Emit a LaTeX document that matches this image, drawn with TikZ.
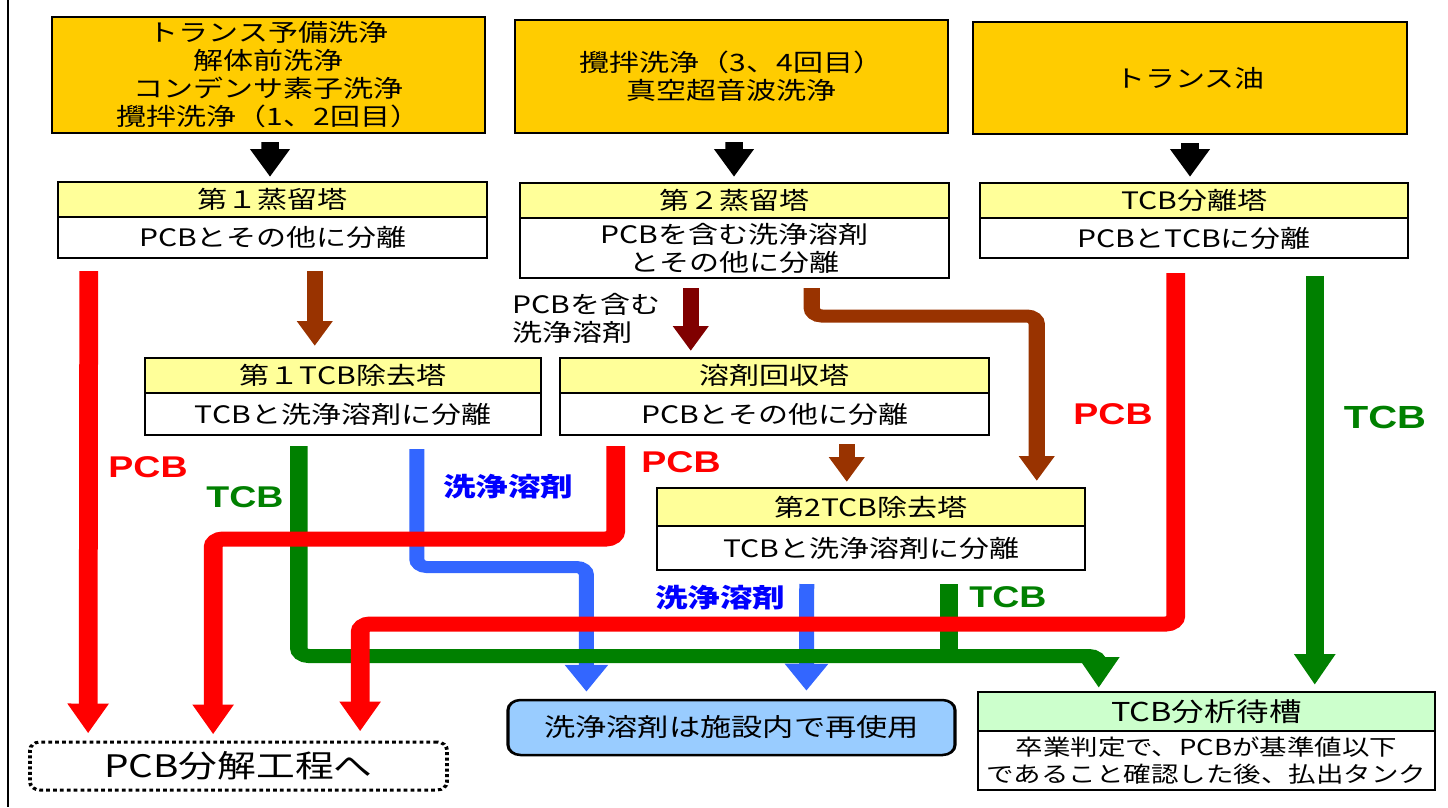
\documentclass[tikz,border=0pt]{standalone}
\usepackage{fontspec}
\setmainfont{Noto Sans CJK JP}
\newfontfamily\latinlab{Liberation Sans}
\usetikzlibrary{arrows.meta,calc}
\definecolor{orng}{HTML}{FFCC00}
\definecolor{hdrfill}{HTML}{FFFF99}
\definecolor{pcbred}{HTML}{FF0000}
\definecolor{tcbgreen}{HTML}{008000}
\definecolor{solvblue}{HTML}{3366FF}
\definecolor{lblblue}{HTML}{0000FF}
\definecolor{brn}{HTML}{993300}
\definecolor{dkred}{HTML}{800000}
\definecolor{reuseblue}{HTML}{99CCFF}
\definecolor{tankgreen}{HTML}{CCFFCC}
\tikzset{
  geom/.style n args={4}{minimum width={(#3-#1)*0.8pt}, minimum height={(#4-#2)*1pt},
     at={({(#1+#3)/2},{(#2+#4)/2})}},
  box/.style={draw=black, line width=2pt, inner sep=0pt, align=center, font=\fontsize{24}{28}\selectfont},
  srcbox/.style={box, fill=orng},
  hdbox/.style={box, fill=hdrfill},
  bdbox/.style={box, fill=white},
  pcbflow/.style={draw=pcbred, line width=15pt, -{Triangle[width=31pt,length=30pt]}},
  tcbflow/.style={draw=tcbgreen, line width=14pt, -{Triangle[width=31pt,length=31pt]}},
  solvflow/.style={draw=solvblue, line width=12pt, -{Triangle[width=33pt,length=27pt]}},
  brnflow/.style={draw=brn, line width=13pt, -{Triangle[width=27pt,length=25pt]}},
  blkflow/.style={draw=black, line width=14pt, -{Triangle[width=30pt,length=28pt]}},
  latlab/.style={font=\latinlab\bfseries\fontsize{30}{30}\selectfont},
  jplab/.style={font=\bfseries\fontsize{26}{26}\selectfont},
  rc/.style={rounded corners=8pt}
}
\begin{document}
\begin{tikzpicture}
\useasboundingbox (0,0) rectangle (1448pt,-807pt);
\begin{scope}[transform canvas={xscale=1.25}, x=0.8pt, y=-1pt]
% frame edge
\draw[line width=2pt] (8,0) -- (8,807);
% source boxes
\node[srcbox, geom={52}{17}{485}{133}] (src1) {トランス予備洗浄\\解体前洗浄\\コンデンサ素子洗浄\\攪拌洗浄（1、2回目）};
\node[srcbox, geom={515}{20}{948}{133}] (src2) {攪拌洗浄（3、4回目）\\真空超音波洗浄};
\node[srcbox, geom={973}{22}{1407}{134}] (src3) {トランス油};
% towers
\node[hdbox, geom={58}{182}{487}{217}] (d1h) {第１蒸留塔};
\node[bdbox, geom={58}{217}{487}{258}] (d1b) {PCBとその他に分離};
\node[hdbox, geom={520}{183}{949}{218}] (d2h) {第２蒸留塔};
\node[bdbox, geom={520}{218}{949}{278}] (d2b) {PCBを含む洗浄溶剤\\とその他に分離};
\node[hdbox, geom={980}{183}{1408}{218}] (sph) {TCB分離塔};
\node[bdbox, geom={980}{218}{1408}{258}] (spb) {PCBとTCBに分離};
\node[hdbox, geom={145}{358}{541}{393}] (t1h) {第１TCB除去塔};
\node[bdbox, geom={145}{393}{541}{435}] (t1b) {TCBと洗浄溶剤に分離};
\node[hdbox, geom={560}{358}{989}{393}] (rch) {溶剤回収塔};
\node[bdbox, geom={560}{393}{989}{435}] (rcb) {PCBとその他に分離};
\node[hdbox, geom={657}{488}{1085}{526}] (t2h) {第2TCB除去塔};
\node[bdbox, geom={657}{526}{1085}{570}] (t2b) {TCBと洗浄溶剤に分離};
\node[box, fill=tankgreen, geom={978}{692}{1435}{731}, font=\fontsize{26}{28}\selectfont] (tkh) {TCB分析待槽};
\node[bdbox, geom={978}{731}{1435}{790}, font=\fontsize{22}{27}\selectfont] (tkb) {卒業判定で、PCBが基準値以下\\であること確認した後、払出タンク};
\node[draw=black, line width=2.5pt, fill=reuseblue, rounded corners=10pt, inner sep=0pt, geom={508}{700}{955}{755}, font=\fontsize{25}{25}\selectfont] (reuse) {洗浄溶剤は施設内で再使用};
\node[draw=black, line width=3pt, dash pattern=on 3pt off 2.5pt, rounded corners=8pt, inner sep=0pt, geom={30}{742}{447}{790}, font=\fontsize{31}{31}\selectfont] (pcbd) {PCB分解工程へ};
% black feed arrows
\draw[blkflow] ($(src1.south)+(1.5,8)$) -- ($(d1h.north)+(-2.5,-4)$);
\draw[blkflow] ($(src2.south)+(2.5,8)$) -- ($(d2h.north)+(-0.5,-5)$);
\draw[blkflow] ($(src3.south)+(0,8)$) -- ($(sph.north)+(-4,-5)$);
% brown flows
\draw[brnflow] ($(d1b.south west)+(258,12)$) -- ($(t1h.north west)+(171,-11)$);
\draw[brnflow, draw=dkred] ($(d2b.south west)+(172,9)$) -- ($(rch.north west)+(132,-6)$);
\draw[brnflow] ($(d2b.south west)+(293,9)$) [rc] -- ++(0,28) -| ($(t2h.north west)+(381,-6)$);
\draw[brnflow] ($(rcb.south west)+(288,8)$) -- ($(t2h.north west)+(191,-5)$);
% solvent flows
\draw[solvflow] ($(t1b.south west)+(273,13)$) [rc] -- ++(0,118) -| ($(reuse.north west)+(80,-7)$);
\draw[solvflow] ($(t2b.south west)+(151,13)$) -- ($(reuse.north west)+(300,-8)$);
% TCB flows
\draw[tcbflow] ($(t1b.south west)+(155,10)$) [rc] -- ++(0,210) -| ($(tkh.north west)+(122,-3)$);
\draw[draw=tcbgreen, line width=14pt] ($(t2b.south west)+(293,13)$) -- ++(0,78);
\draw[tcbflow] ($(spb.south west)+(336,17)$) -- ($(tkh.north west)+(338,-6)$);
% PCB flows
\draw[pcbflow] ($(d1b.south west)+(32,12)$) -- ($(pcbd.north west)+(60,-7)$);
\draw[pcbflow] ($(rcb.south west)+(57,10)$) [rc] -- ++(0,93) -| ($(pcbd.north west)+(185,-6)$);
\draw[pcbflow] ($(spb.south west)+(197,14)$) [rc] -- ++(0,351) -| ($(pcbd.north west)+(332,-9)$);
% labels
\node[latlab, text=pcbred] (lp1) at (148,467) {PCB};
\node[latlab, text=tcbgreen] (lt1) at (245,497) {TCB};
\node[jplab, text=lblblue] (ls1) at (508,487) {洗浄溶剤};
\node[latlab, text=pcbred] (lp2) at (681,462) {PCB};
\node[latlab, text=pcbred] (lp3) at (1113,414) {PCB};
\node[latlab, text=tcbgreen, font=\latinlab\bfseries\fontsize{32}{32}\selectfont] (lt3) at (1385,417) {TCB};
\node[jplab, text=lblblue] (ls2) at (720,598) {洗浄溶剤};
\node[latlab, text=tcbgreen] (lt2) at (1008,597) {TCB};
\node[anchor=west, align=left, inner sep=0pt, font=\fontsize{24}{28}\selectfont] (lsv) at (512,318) {PCBを含む\\洗浄溶剤};
\end{scope}
\end{tikzpicture}
\end{document}
